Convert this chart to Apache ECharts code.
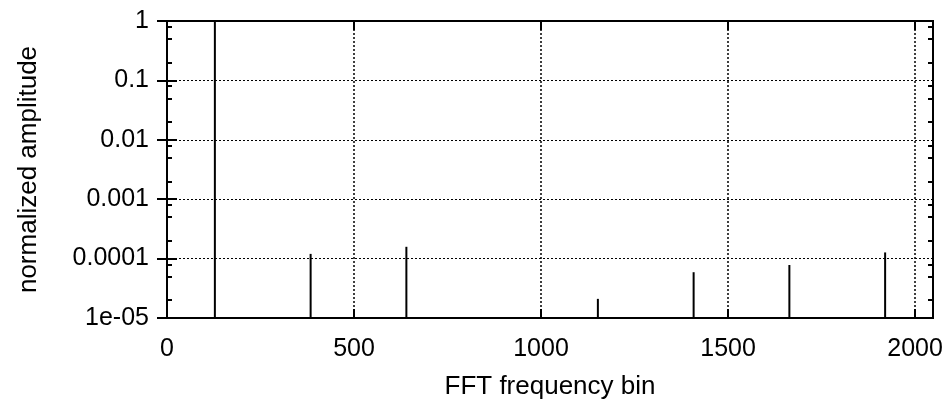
<!DOCTYPE html>
<html>
<head>
<meta charset="utf-8">
<script src="https://cdn.jsdelivr.net/npm/echarts@6/dist/echarts.min.js"></script>
<style>html,body{margin:0;padding:0;background:#fff;}#c{width:949px;height:402px;}</style>
</head>
<body>
<div id="c"></div>
<script>
// FFT bins (x) and normalized amplitudes (y)
var bins = [128, 384, 640, 1152, 1408, 1664, 1920];
var amplitudes = [1, 1.2e-4, 1.58e-4, 2.1e-5, 5.9e-5, 7.8e-5, 1.27e-4];
var xTickValues = [0, 500, 1000, 1500, 2000];
var yTickValues = [1e-5, 1e-4, 1e-3, 1e-2, 1e-1, 1];
var yTickLabels = ['1e-05', '0.0001', '0.001', '0.01', '0.1', '1'];
var yMinorTicks = [2e-5, 5e-5, 8e-5, 2e-4, 5e-4, 8e-4, 2e-3, 5e-3, 8e-3, 2e-2, 5e-2, 8e-2, 0.2, 0.5, 0.8];

var FONT = 'Liberation Sans';
var data = bins.map(function (b, i) { return [b, amplitudes[i]]; });

var chart = echarts.init(document.getElementById('c'));
var labelMap = {};
yTickValues.forEach(function (v, i) { labelMap[v.toExponential()] = yTickLabels[i]; });

var xBase = {
  type: 'value', min: 0, max: 2048, interval: 500,
  axisLine: { show: false },
  axisTick: { show: true, inside: true, length: 9, lineStyle: { color: '#000', width: 2 } }
};
var yBase = {
  type: 'log', logBase: 10, min: 1e-5, max: 1,
  axisLine: { show: false },
  axisTick: { show: true, inside: true, length: 10, lineStyle: { color: '#000', width: 2 } }
};

chart.setOption({
  animation: false,
  backgroundColor: '#fff',
  grid: { left: 167, right: 16, top: 21, bottom: 84, show: true, borderColor: '#000', borderWidth: 2,
    backgroundColor: 'transparent', containLabel: false, outerBoundsMode: 'none' },
  xAxis: [
    Object.assign({}, xBase, {
      position: 'bottom',
      name: 'FFT frequency bin', nameLocation: 'middle', nameGap: 56,
      nameTextStyle: { fontFamily: FONT, fontSize: 26, color: '#000' },
      axisLabel: { show: true, margin: 19, fontFamily: FONT, fontSize: 25, color: '#000', showMaxLabel: false,
        formatter: function (v) { return xTickValues.indexOf(v) >= 0 ? String(v) : ''; } },
      splitLine: { show: true, lineStyle: { color: '#000', width: 1.5, type: [2, 2] } }
    }),
    Object.assign({}, xBase, {
      position: 'top',
      axisLabel: { show: false },
      splitLine: { show: false }
    })
  ],
  yAxis: [
    Object.assign({}, yBase, {
      position: 'left',
      name: 'normalized amplitude', nameLocation: 'middle', nameGap: 125, nameRotate: 90,
      nameTextStyle: { fontFamily: FONT, fontSize: 26, color: '#000' },
      axisLabel: { show: true, margin: 18, fontFamily: FONT, fontSize: 25, color: '#000',
        formatter: function (v) { var k = Number(v).toExponential(); return labelMap[k] !== undefined ? labelMap[k] : ''; } },
      splitLine: { show: true, lineStyle: { color: '#000', width: 1, type: [2, 2] } }
    }),
    Object.assign({}, yBase, {
      position: 'right',
      axisLabel: { show: false },
      splitLine: { show: false }
    }),
    Object.assign({}, yBase, {
      position: 'left',
      axisTick: { show: true, inside: true, length: 5, customValues: yMinorTicks, lineStyle: { color: '#000', width: 2 } },
      axisLabel: { show: false },
      splitLine: { show: false }
    }),
    Object.assign({}, yBase, {
      position: 'right',
      axisTick: { show: true, inside: true, length: 5, customValues: yMinorTicks, lineStyle: { color: '#000', width: 2 } },
      axisLabel: { show: false },
      splitLine: { show: false }
    })
  ],
  series: [{
    type: 'custom',
    xAxisIndex: 0, yAxisIndex: 0,
    data: data,
    clip: true,
    renderItem: function (params, api) {
      var x = api.value(0), y = api.value(1);
      var p0 = api.coord([x, 1e-5]);
      var p1 = api.coord([x, y]);
      return { type: 'line', shape: { x1: p0[0], y1: p0[1], x2: p1[0], y2: p1[1] },
        style: { stroke: '#000', lineWidth: 2 } };
    }
  }]
});
</script>
</body>
</html>
